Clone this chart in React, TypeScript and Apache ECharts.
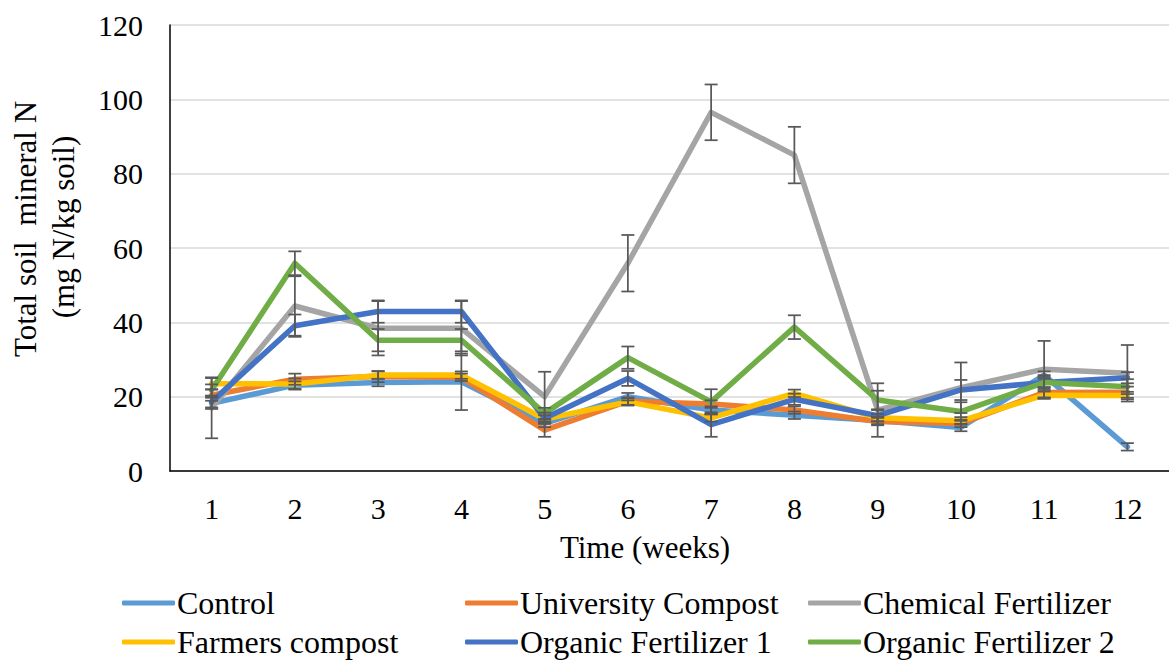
import React, { useEffect, useRef } from "react";
import * as echarts from "echarts";

// Sampling weeks
const weeks = ["1", "2", "3", "4", "5", "6", "7", "8", "9", "10", "11", "12"];

// Total soil mineral N (mg N/kg soil) per treatment
const control = [18.2, 23.1, 23.8, 24.0, 12.8, 20.0, 16.4, 15.0, 13.6, 11.7, 25.8, 6.5];
const universityCompost = [20.4, 24.7, 25.4, 25.2, 11.0, 18.8, 18.0, 16.4, 13.3, 12.8, 21.1, 21.2];
const chemicalFertilizer = [17.0, 44.4, 38.4, 38.4, 20.0, 55.9, 96.5, 85.0, 16.4, 22.4, 27.4, 26.3];
const farmersCompost = [23.5, 23.4, 25.8, 25.8, 14.0, 18.6, 14.3, 20.9, 14.3, 13.5, 20.4, 20.3];
const organicFertilizer1 = [18.6, 39.1, 42.9, 42.9, 14.2, 24.9, 12.5, 19.3, 14.9, 21.8, 23.8, 25.1];
const organicFertilizer2 = [21.8, 55.9, 35.2, 35.2, 15.5, 30.5, 18.6, 38.7, 19.1, 16.0, 23.8, 22.7];

// Standard error per treatment
const controlErr = [1.5, 1.0, 1.0, 7.6, 1.0, 1.0, 1.0, 1.0, 1.0, 1.0, 1.0, 1.0];
const universityCompostErr = [1.5, 1.5, 1.5, 1.0, 1.8, 1.0, 1.0, 1.0, 1.0, 1.0, 1.5, 1.5];
const chemicalFertilizerErr = [8.2, 8.0, 7.3, 7.3, 6.7, 7.6, 7.5, 7.6, 7.2, 6.8, 7.6, 7.6];
const farmersCompostErr = [1.5, 1.5, 1.0, 1.0, 1.0, 1.0, 1.0, 1.0, 1.0, 1.0, 1.0, 1.0];
const organicFertilizer1Err = [1.5, 3.0, 3.0, 3.0, 1.5, 2.0, 3.3, 1.5, 1.5, 2.7, 1.5, 1.5];
const organicFertilizer2Err = [1.5, 3.2, 3.0, 3.0, 1.5, 3.0, 3.4, 3.2, 2.5, 2.5, 2.0, 2.0];

const yTicks = { min: 0, max: 120, interval: 20 };

const treatments = [
  { name: "Control", values: control, err: controlErr, color: "#5B9BD5" },
  { name: "University Compost", values: universityCompost, err: universityCompostErr, color: "#ED7D31" },
  { name: "Chemical Fertilizer", values: chemicalFertilizer, err: chemicalFertilizerErr, color: "#A5A5A5" },
  { name: "Farmers compost", values: farmersCompost, err: farmersCompostErr, color: "#FFC000" },
  { name: "Organic Fertilizer 1", values: organicFertilizer1, err: organicFertilizer1Err, color: "#4472C4" },
  { name: "Organic Fertilizer 2", values: organicFertilizer2, err: organicFertilizer2Err, color: "#70AD47" },
];

const FONT = "'Liberation Serif', 'Times New Roman', serif";

// Legend slots: three columns, two rows
const legendCols = [122, 465, 808];
const legendRows = [587, 626];

export default function App() {
  const ref = useRef<HTMLDivElement>(null);

  useEffect(() => {
    if (!ref.current) return;
    const chart = echarts.init(ref.current, null, { renderer: "svg" });

    const lineSeries = treatments.map((t) => ({
      name: t.name,
      type: "line",
      data: t.values,
      color: t.color,
      symbol: "none",
      lineStyle: { color: t.color, width: 5.5, cap: "round", join: "round" },
      z: 2,
    }));

    const errorSeries = treatments.map((t) => ({
      name: t.name + " error",
      type: "custom",
      data: t.values.map((v, i) => [i, v - t.err[i], v + t.err[i]]),
      z: 3,
      silent: true,
      renderItem: (params: any, api: any) => {
        const idx = api.value(0);
        const lo = api.coord([idx, api.value(1)]);
        const hi = api.coord([idx, api.value(2)]);
        const half = 6.5;
        const style = { stroke: "#595959", lineWidth: 1.75 };
        return {
          type: "group",
          children: [
            { type: "line", shape: { x1: lo[0], y1: lo[1], x2: hi[0], y2: hi[1] }, style },
            { type: "line", shape: { x1: lo[0] - half, y1: lo[1], x2: lo[0] + half, y2: lo[1] }, style },
            { type: "line", shape: { x1: hi[0] - half, y1: hi[1], x2: hi[0] + half, y2: hi[1] }, style },
          ],
        };
      },
    }));

    const legends = treatments.map((t, i) => ({
      data: [t.name],
      left: legendCols[i % 3],
      top: legendRows[Math.floor(i / 3)],
      orient: "horizontal",
      icon: "roundRect",
      itemWidth: 53,
      itemHeight: 5,
      itemGap: 0,
      padding: 0,
      selectedMode: false,
      textStyle: { fontFamily: FONT, fontSize: 32, color: "#000", padding: [0, 0, 0, -3], lineHeight: 32 },
    }));

    chart.setOption({
      animation: false,
      backgroundColor: "#fff",
      textStyle: { fontFamily: FONT },
      grid: { left: 170, top: 25, width: 1007, height: 446, containLabel: false },
      legend: legends,
      xAxis: {
        type: "category",
        data: weeks,
        boundaryGap: true,
        axisTick: { show: false },
        axisLine: { show: true, lineStyle: { color: "#000", width: 1.5 } },
        axisLabel: { fontFamily: FONT, fontSize: 30, color: "#000", margin: 22 },
        splitLine: { show: false },
      },
      yAxis: {
        type: "value",
        min: yTicks.min,
        max: yTicks.max,
        interval: yTicks.interval,
        axisTick: { show: false },
        axisLine: { show: true, lineStyle: { color: "#000", width: 1.5 } },
        axisLabel: { fontFamily: FONT, fontSize: 30, color: "#000", margin: 27 },
        splitLine: { show: true, lineStyle: { color: "#D9D9D9", width: 1.5 } },
      },
      graphic: [
        {
          type: "text",
          x: 25,
          y: 229,
          rotation: Math.PI / 2,
          style: {
            text: "Total soil  mineral N",
            fontFamily: FONT,
            fontSize: 31,
            fill: "#000",
            textAlign: "center",
            textVerticalAlign: "middle",
          },
        },
        {
          type: "text",
          x: 63,
          y: 227,
          rotation: Math.PI / 2,
          style: {
            text: "(mg N/kg soil)",
            fontFamily: FONT,
            fontSize: 31,
            fill: "#000",
            textAlign: "center",
            textVerticalAlign: "middle",
          },
        },
        {
          type: "text",
          x: 645,
          y: 547,
          style: {
            text: "Time (weeks)",
            fontFamily: FONT,
            fontSize: 31,
            fill: "#000",
            textAlign: "center",
            textVerticalAlign: "middle",
          },
        },
      ],
      series: [...lineSeries, ...errorSeries],
    });

    return () => chart.dispose();
  }, []);

  return (
    <div
      ref={ref}
      style={{ position: "absolute", left: 0, top: 0, width: 1169, height: 660, background: "#fff" }}
    />
  );
}
